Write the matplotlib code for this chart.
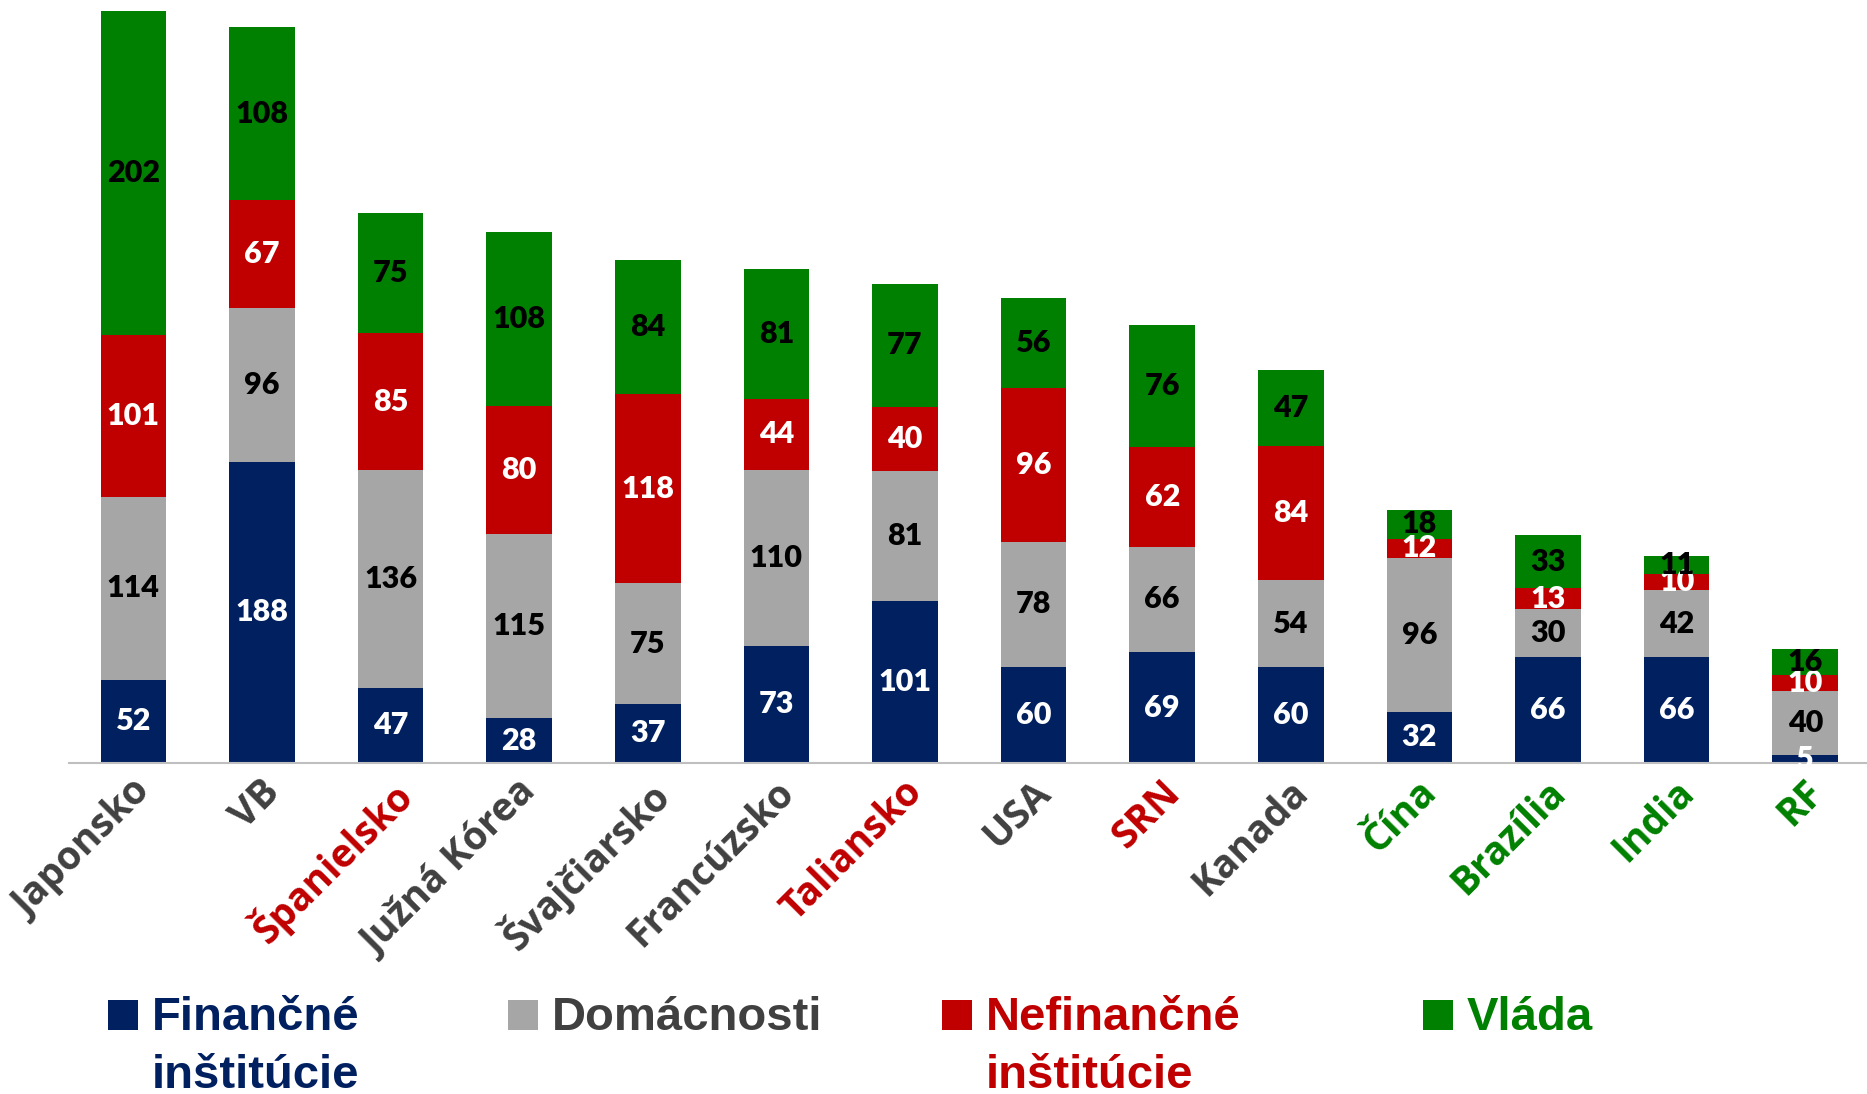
import numpy as np
import matplotlib
matplotlib.use("Agg")
import matplotlib.pyplot as plt
from matplotlib.patches import Rectangle
from matplotlib.transforms import ScaledTranslation

# data
krajiny = ["Japonsko", "VB", "Španielsko", "Južná Kórea", "Švajčiarsko", "Francúzsko",
           "Taliansko", "USA", "SRN", "Kanada", "Čína", "Brazília", "India", "RF"]
financne = [52, 188, 47, 28, 37, 73, 101, 60, 69, 60, 32, 66, 66, 5]
domacnosti = [114, 96, 136, 115, 75, 110, 81, 78, 66, 54, 96, 30, 42, 40]
nefinancne = [101, 67, 85, 80, 118, 44, 40, 96, 62, 84, 12, 13, 10, 10]
vlada = [202, 108, 75, 108, 84, 81, 77, 56, 76, 47, 18, 33, 11, 16]
skupina = ["sivá", "sivá", "červená", "sivá", "sivá", "sivá", "červená",
           "sivá", "červená", "sivá", "zelená", "zelená", "zelená", "zelená"]

NAVY = "#002060"
GRAY = "#A6A6A6"
RED = "#C00000"
GREEN = "#008000"
DARK = "#404040"
farba_popisu = {"sivá": DARK, "červená": RED, "zelená": GREEN}

series = [
    (financne, NAVY, "white", ["Finančné", "inštitúcie"], NAVY),
    (domacnosti, GRAY, "black", ["Domácnosti"], DARK),
    (nefinancne, RED, "white", ["Nefinančné", "inštitúcie"], RED),
    (vlada, GREEN, "black", ["Vláda"], GREEN),
]

W, H = 1867, 1094
fig = plt.figure(figsize=(W / 100, H / 100), dpi=100)
ax = fig.add_axes((69 / W, (H - 763) / H, (W - 69) / W, 763 / H))

x = np.arange(len(krajiny))
bottom = np.zeros(len(krajiny))
for vals, col, tcol, lab, lcol in series:
    vals = np.array(vals, dtype=float)
    bars = ax.bar(x, vals, width=0.51, bottom=bottom, color=col, linewidth=0, zorder=2)
    for xi, b, v in zip(x, bottom, vals):
        ax.text(xi, b + v / 2, f"{int(v)}", ha="center", va="center", color=tcol,
                fontsize=22, fontweight="heavy", family="Lato", zorder=3)
    bottom += vals

ax.set_xlim(-0.5, 13.48)
ax.set_ylim(0, 476)
for s in ["top", "right", "left"]:
    ax.spines[s].set_visible(False)
ax.spines["bottom"].set_color("#BFBFBF")
ax.spines["bottom"].set_linewidth(1.5)
ax.set_yticks([])
ax.set_xticks(x)
ax.tick_params(axis="x", length=0, pad=7)
ax.set_xticklabels(krajiny, rotation=45, ha="right", va="top", rotation_mode="anchor",
                   fontsize=28, fontweight="bold", family="Open Sans")
posun = ScaledTranslation(-2 / 100, 0, fig.dpi_scale_trans)
for lbl, sk in zip(ax.get_xticklabels(), skupina):
    lbl.set_color(farba_popisu[sk])
    lbl.set_transform(lbl.get_transform() + posun)

# legenda
leg_x = [108, 508, 942, 1423]
for lx, (vals, col, tcol, lab, lcol) in zip(leg_x, series):
    fig.patches.append(Rectangle((lx / W, 1 - 1030 / H), 30 / W, 30 / H,
                                 transform=fig.transFigure, color=col, linewidth=0))
    for i, riadok in enumerate(lab):
        fig.text((lx + 44) / W, 1 - (1030 + 58 * i) / H, riadok, ha="left", va="baseline",
                 color=lcol, fontsize=34, fontweight="bold", family="Liberation Sans")

fig.savefig("out.png", dpi=100)
